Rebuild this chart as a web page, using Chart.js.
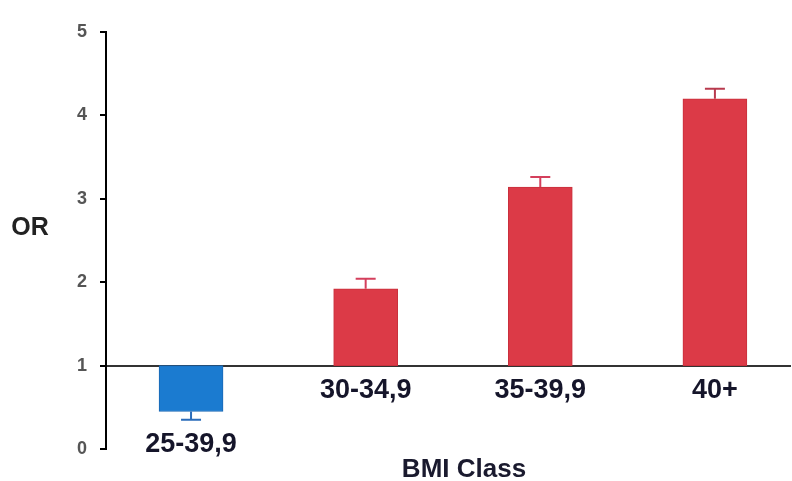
<!DOCTYPE html>
<html>
<head>
<meta charset="utf-8">
<title>OR by BMI class</title>
<script src="https://cdn.jsdelivr.net/npm/chart.js@4/dist/chart.umd.min.js"></script>
<style>
  html, body { margin: 0; padding: 0; background: #fff; }
  #wrap { width: 792px; height: 481px; position: relative; }
</style>
</head>
<body>
<div id="wrap"><canvas id="chart"></canvas></div>
<script>
// --- Data ---
const categories = ['25-39,9', '30-34,9', '35-39,9', '40+'];
const baseline = 1;                       // OR = 1 reference
const orValue = [0.45, 1.92, 3.14, 4.20]; // bar ends
const ciBound = [0.35, 2.04, 3.26, 4.32]; // error bar ends
const yTicks = [0, 1, 2, 3, 4, 5];

const barColors = ['#1b7bd0', '#dc3a47', '#dc3a47', '#dc3a47'];
const edgeColors = ['#1a68b4', '#c9303c', '#c9303c', '#c9303c'];
const errColors = ['#2a6cba', '#d43f5c', '#d43f5c', '#b83a4e'];

// --- Error bars + free text (OR, BMI Class) ---
const extras = {
  id: 'extras',
  afterDatasetsDraw(chart) {
    const { ctx } = chart;
    const yScale = chart.scales.y;
    const meta = chart.getDatasetMeta(0);
    ctx.save();
    ctx.lineWidth = 2;
    meta.data.forEach((bar, i) => {
      const yEnd = yScale.getPixelForValue(orValue[i]);
      const yErr = yScale.getPixelForValue(ciBound[i]);
      ctx.strokeStyle = errColors[i];
      ctx.beginPath();
      ctx.moveTo(bar.x, yEnd);
      ctx.lineTo(bar.x, yErr);
      ctx.moveTo(bar.x - 10, yErr);
      ctx.lineTo(bar.x + 10, yErr);
      ctx.stroke();
    });
    ctx.restore();
  },
  afterDraw(chart) {
    const { ctx, chartArea } = chart;
    ctx.save();
    ctx.textAlign = 'center';
    ctx.textBaseline = 'middle';
    ctx.fillStyle = '#222';
    ctx.font = 'bold 25px "Liberation Sans", Arial, sans-serif';
    ctx.fillText('OR', 30, 228);
    ctx.fillStyle = '#1a1a2e';
    ctx.font = 'bold 26px "Liberation Sans", Arial, sans-serif';
    ctx.fillText('BMI Class', 464, chartArea.bottom + 21);
    ctx.restore();
  }
};

const ctx = document.getElementById('chart').getContext('2d');
new Chart(ctx, {
  type: 'bar',
  data: {
    datasets: [{
      data: categories.map((c, i) => ({ x: i + 1, y: [baseline, orValue[i]] })),
      backgroundColor: barColors,
      borderColor: edgeColors,
      borderWidth: 1,
      borderSkipped: false,
      barThickness: 64
    }]
  },
  options: {
    responsive: true,
    maintainAspectRatio: false,
    animation: false,
    layout: { padding: { left: 50, right: 2, top: 32, bottom: 32 } },
    plugins: {
      legend: { display: false },
      tooltip: { enabled: false }
    },
    scales: {
      x: {
        type: 'linear',
        position: { y: baseline },
        min: 0.513,
        max: 4.43,
        offset: false,
        grid: { display: false, drawTicks: false },
        border: { display: true, color: '#333', width: 2 },
        ticks: {
          stepSize: 1,
          includeBounds: false,
          autoSkip: false,
          maxRotation: 0,
          padding: 11,
          color: '#15152a',
          font: { family: '"Liberation Sans", Arial, sans-serif', size: 27, weight: 'bold', lineHeight: 1.0 },
          // first class sits under its (downward) bar
          callback: v => {
            const label = categories[v - 1];
            if (label === undefined) return '';
            return v === 1 ? ['', '', label] : label;
          }
        }
      },
      y: {
        min: yTicks[0],
        max: yTicks[yTicks.length - 1],
        afterFit: s => { s.width = 56; },
        afterBuildTicks: s => { s.ticks = yTicks.map(v => ({ value: v })); },
        grid: { drawOnChartArea: false, color: '#000', lineWidth: 2, tickLength: 6 },
        border: { display: true, color: '#000', width: 2 },
        ticks: {
          padding: 13,
          color: '#555',
          font: { family: '"Liberation Sans", Arial, sans-serif', size: 18, weight: 'bold' }
        }
      }
    }
  },
  plugins: [extras]
});
</script>
</body>
</html>
